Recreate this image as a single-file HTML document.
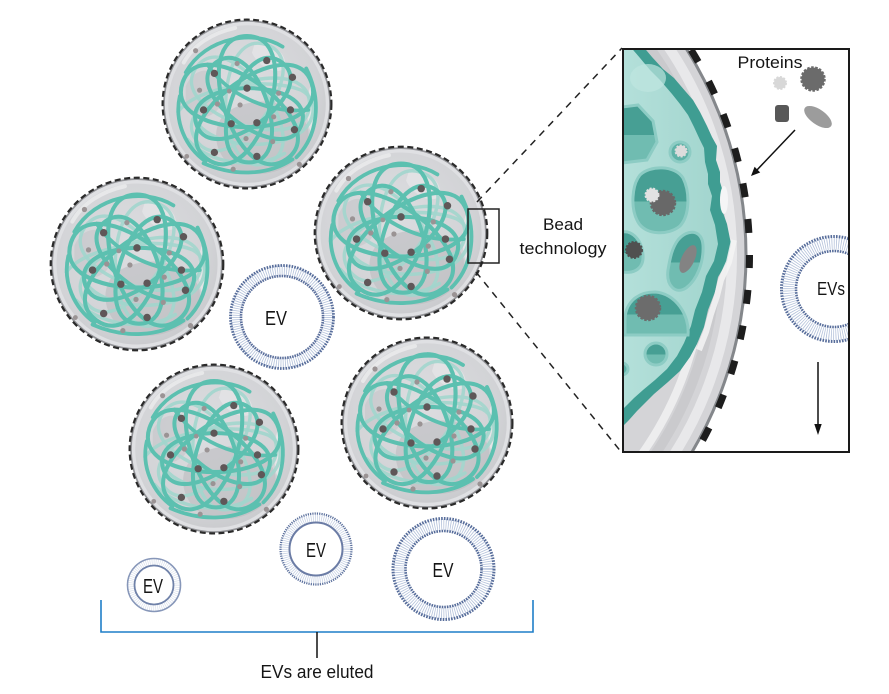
<!DOCTYPE html>
<html>
<head>
<meta charset="utf-8">
<style>
html,body{margin:0;padding:0;background:#fff;}
body{width:889px;height:694px;overflow:hidden;}
svg{display:block;}
text{font-family:"Liberation Sans Narrow","Liberation Sans",sans-serif;fill:#151515;}
</style>
</head>
<body>
<svg width="889" height="694" viewBox="0 0 889 694" xmlns="http://www.w3.org/2000/svg">
<defs>
  <radialGradient id="bg" cx="0.45" cy="0.4" r="0.65">
    <stop offset="0" stop-color="#dcdde0"/>
    <stop offset="0.75" stop-color="#d2d3d6"/>
    <stop offset="1" stop-color="#c8c9cc"/>
  </radialGradient>
  <linearGradient id="tealL" x1="0" y1="0" x2="1" y2="0">
    <stop offset="0" stop-color="#b4e0da"/>
    <stop offset="1" stop-color="#a2d5ce"/>
  </linearGradient>
  <linearGradient id="pt" x1="0" y1="0" x2="0" y2="1">
    <stop offset="0" stop-color="#479f94"/>
    <stop offset="0.52" stop-color="#479f94"/>
    <stop offset="0.52" stop-color="#70bcb1"/>
    <stop offset="1" stop-color="#70bcb1"/>
  </linearGradient>
  <clipPath id="ic"><rect x="623" y="49" width="226" height="403"/></clipPath>

  <path id="starA" fill="none" d="M0,-55 C-50,-55 -8.2,73.9 32.3,44.5 C72.8,15.1 -36.8,-64.6 -52.3,-17 C-67.8,30.6 67.8,30.6 52.3,-17 C36.8,-64.6 -72.8,15.1 -32.3,44.5 C8.2,73.9 50,-55 0,-55Z"/>

  <g id="bead">
    <circle r="85" fill="#d1d2d5"/>
    <circle r="80" fill="url(#bg)"/>
    <path d="M-20,8 C10,-12 55,-2 62,26 C66,55 30,76 0,70 C-30,64 -42,26 -20,8Z" fill="#b9babd" opacity="0.55"/>
    <path d="M-62,-18 C-52,-42 -24,-38 -24,-10 C-24,14 -55,22 -62,4Z" fill="#c1c2c5" opacity="0.5"/>
    <path d="M8,-62 C28,-62 42,-50 38,-36 C28,-28 10,-40 5,-52Z" fill="#e9eaeb" opacity="0.6"/>
    <ellipse cx="66" cy="5" rx="5" ry="24" fill="#ededee" opacity="0.7"/>
    <path d="M-64,-42 C-54,-60 -35,-72 -12,-77" stroke="#f0f0f1" stroke-width="4" fill="none" stroke-linecap="round" opacity="0.7"/>
    <circle r="81.5" fill="none" stroke="#e6e6e8" stroke-width="3.5" opacity="0.7"/>
    <!-- faded loops -->
    <use href="#starA" transform="rotate(18) scale(1.15)" stroke="#a2d6cd" stroke-width="3" opacity="0.9"/>
    <g fill="none" stroke="#a2d6cd" stroke-width="3.5" stroke-linecap="round" opacity="0.9">
      <path d="M-70,8 C-50,-18 20,-28 55,-14 C74,-4 70,24 45,34 C10,48 -40,40 -52,16"/>
      <path d="M-60,36 C-40,60 8,68 38,50"/>
    </g>
    <!-- main tangle -->
    <use href="#starA" transform="scale(1.25)" stroke="#5cc0b0" stroke-width="3.3" stroke-linejoin="round"/>
    <use href="#starA" transform="translate(2,3) rotate(36) scale(1.02)" stroke="#5cc0b0" stroke-width="4" stroke-linejoin="round"/>
    <g fill="none" stroke="#5cc0b0" stroke-width="3.8" stroke-linecap="round">
      <path d="M-62,-32 C-42,-68 8,-76 36,-58"/>
      <path d="M60,-36 C76,-4 72,32 50,54"/>
      <path d="M-44,60 C-12,74 22,72 46,56"/>
      <path d="M-68,-8 C-74,18 -62,44 -42,58"/>
      <path d="M-40,-40 C-20,-10 20,10 62,6"/>
    </g>
    <!-- dots -->
    <g fill="#9a9394">
      <circle cx="-52" cy="-54" r="2.6"/><circle cx="-10" cy="-41" r="2.6"/><circle cx="-48" cy="-14" r="2.6"/>
      <circle cx="32" cy="-11" r="2.6"/><circle cx="-30" cy="0" r="2.6"/><circle cx="-7" cy="1" r="2.6"/>
      <circle cx="27" cy="13" r="2.6"/><circle cx="-1" cy="35" r="2.6"/><circle cx="26" cy="38" r="2.6"/>
      <circle cx="-14" cy="66" r="2.6"/><circle cx="53" cy="61" r="2.6"/><circle cx="-61" cy="53" r="2.4"/>
      <circle cx="-18" cy="-13" r="2.4"/>
    </g>
    <g fill="#5f5758">
      <circle cx="20" cy="-44" r="3.7"/><circle cx="-33" cy="-31" r="3.7"/><circle cx="46" cy="-27" r="3.7"/>
      <circle cx="0" cy="-16" r="3.7"/><circle cx="-44" cy="6" r="3.7"/><circle cx="44" cy="6" r="3.7"/>
      <circle cx="-16" cy="20" r="3.7"/><circle cx="10" cy="19" r="3.7"/><circle cx="48" cy="26" r="3.7"/>
      <circle cx="-33" cy="49" r="3.7"/><circle cx="10" cy="53" r="3.7"/>
    </g>
    <circle r="84" fill="none" stroke="#939498" stroke-width="1.6"/>
    <circle r="85.4" fill="none" stroke="#2a2a2a" stroke-width="2.2" stroke-dasharray="6 3.5"/>
  </g>
</defs>

<rect width="889" height="694" fill="#fff"/>

<!-- beads -->
<use href="#bead" transform="translate(247,104) scale(0.988)"/>
<use href="#bead" transform="translate(137,264) scale(1.01)"/>
<use href="#bead" transform="translate(401,233) scale(1.01)"/>
<use href="#bead" transform="translate(214,449) scale(0.988)"/>
<use href="#bead" transform="translate(427,423)"/>

<!-- EV 1 -->
<g fill="none">
  <circle cx="282" cy="317" r="46.5" stroke="#b3c1da" stroke-width="10" stroke-dasharray="0.8 1.5"/>
  <circle cx="282" cy="317" r="51.5" stroke="#566c9a" stroke-width="2.8" stroke-dasharray="1.6 1.2"/>
  <circle cx="282" cy="317" r="41" stroke="#5b6f9c" stroke-width="2.6" stroke-dasharray="1.6 0.9"/>
</g>
<text x="276" y="325" font-size="20" text-anchor="middle" textLength="22" lengthAdjust="spacingAndGlyphs">EV</text>

<!-- EV 2 small -->
<g fill="none">
  <circle cx="154" cy="585" r="23" stroke="#d6ddea" stroke-width="6" stroke-dasharray="0.6 1.4"/>
  <circle cx="154" cy="585" r="26.5" stroke="#8797b9" stroke-width="1.6"/>
  <circle cx="154" cy="585" r="19.5" stroke="#7082a9" stroke-width="1.8"/>
</g>
<text x="153" y="593" font-size="20" text-anchor="middle" textLength="20" lengthAdjust="spacingAndGlyphs">EV</text>

<!-- EV 3 -->
<g fill="none">
  <circle cx="316" cy="549" r="31" stroke="#c3cee2" stroke-width="7" stroke-dasharray="0.7 1.4"/>
  <circle cx="316" cy="549" r="35.5" stroke="#5a6f9c" stroke-width="2.2" stroke-dasharray="1.2 1.1"/>
  <circle cx="316" cy="549" r="26.5" stroke="#6b7ca5" stroke-width="2"/>
</g>
<text x="316" y="557" font-size="20" text-anchor="middle" textLength="20" lengthAdjust="spacingAndGlyphs">EV</text>

<!-- EV 4 -->
<g fill="none">
  <circle cx="443.5" cy="569" r="44.5" stroke="#b3c1da" stroke-width="11" stroke-dasharray="0.8 1.5"/>
  <circle cx="443.5" cy="569" r="50.5" stroke="#566c9a" stroke-width="3" stroke-dasharray="1.6 1.2"/>
  <circle cx="443.5" cy="569" r="38" stroke="#566c9a" stroke-width="2.6" stroke-dasharray="1.6 1"/>
</g>
<text x="443" y="577" font-size="20" text-anchor="middle" textLength="21" lengthAdjust="spacingAndGlyphs">EV</text>

<!-- bracket -->
<path d="M101,600 V632 H533 V600" fill="none" stroke="#1f7fc8" stroke-width="1.6"/>
<line x1="317" y1="632" x2="317" y2="658" stroke="#111" stroke-width="1.5"/>
<text x="317" y="678" font-size="18" text-anchor="middle" textLength="113" lengthAdjust="spacingAndGlyphs">EVs are eluted</text>

<!-- small rect & dashed connectors -->
<rect x="468" y="209" width="31" height="54" fill="none" stroke="#222" stroke-width="1.5"/>
<line x1="477" y1="202" x2="622" y2="48" stroke="#222" stroke-width="1.5" stroke-dasharray="7 6"/>
<line x1="476" y1="272" x2="622" y2="453" stroke="#222" stroke-width="1.5" stroke-dasharray="7 6"/>

<text x="563" y="230" font-size="17" text-anchor="middle" textLength="40" lengthAdjust="spacingAndGlyphs">Bead</text>
<text x="563" y="254" font-size="17" text-anchor="middle" textLength="87" lengthAdjust="spacingAndGlyphs">technology</text>

<!-- inset -->
<g clip-path="url(#ic)">
  <rect x="623" y="49" width="226" height="403" fill="#fff"/>
  <circle cx="360" cy="255" r="386" fill="#d4d4d7"/>
  <circle cx="360" cy="255" r="372" fill="none" stroke="#e8e8ea" stroke-width="10"/>
  <circle cx="360" cy="255" r="356" fill="none" stroke="#cacacd" stroke-width="10"/>
  <circle cx="360" cy="255" r="345" fill="none" stroke="#ededee" stroke-width="8"/>
  <!-- teal dark band -->
  <path d="M622,44 L641,44 L652,57 L663,69 L674,78 L686,92 L693,100 L700,112 L707,126 L712,137 L717,146 L716,160 L720,172 L720,182 L724,195 L722,210 L727,224 L731,244 L727,262 L718,277 L715,292 L708,310 L704,327 L697,344 L690,357 L680,371 L668,382 L654,394 L645,403 L637,411 L629,420 L622,427 Z" fill="#3f9d92"/>
  <!-- teal light interior -->
  <path d="M622,44 L628,44 L640,58 L650,70 L660,80 L672,94 L680,104 L688,115 L694,127 L700,140 L704,148 L705,162 L708,174 L708,184 L712,196 L710,210 L715,225 L718,244 L714,261 L706,276 L702,292 L695,310 L691,326 L684,343 L677,356 L667,369 L655,380 L643,390 L634,398 L627,405 L622,410 Z" fill="url(#tealL)"/>
  <ellipse cx="648" cy="78" rx="18" ry="14" fill="#bfe5e0" opacity="0.7"/>
  <!-- pores -->
  <g stroke="#8dccc4" stroke-width="3">
    <path d="M622,107 L638,105 L653,121 L657,142 L647,160 L622,163 Z" fill="url(#pt)"/>
    <circle cx="680" cy="152" r="10" fill="#5fb2a7"/>
    <path d="M640,175 C650,165 675,165 683,178 C690,192 690,215 680,226 C668,236 645,235 638,222 C630,208 632,185 640,175 Z" fill="url(#pt)"/>
    <path d="M622,232 C632,230 642,240 643,255 C644,268 635,274 622,272 Z" fill="url(#pt)"/>
    <path d="M678,240 C688,228 702,230 703,245 C704,262 697,280 686,288 C675,295 666,285 668,270 C670,258 672,248 678,240 Z" fill="url(#pt)"/>
    <path d="M625,335 L688,335 C690,315 675,293 655,292 C635,292 625,305 625,320 Z" fill="url(#pt)"/>
    <circle cx="656" cy="354" r="11" fill="url(#pt)"/>
    <circle cx="622" cy="369" r="6" fill="#5fb2a7"/>
  </g>
  <!-- proteins in pores -->
  <g>
    <circle cx="681" cy="151" r="5.5" fill="#dcdcdc" stroke="#dcdcdc" stroke-width="2" stroke-dasharray="2 1.5"/>
    <circle cx="663" cy="203" r="12" fill="#686868" stroke="#686868" stroke-width="2.5" stroke-dasharray="2.5 1.5"/>
    <circle cx="652" cy="195" r="6.5" fill="#e2e2e2" stroke="#e2e2e2" stroke-width="2" stroke-dasharray="2 1.5"/>
    <circle cx="634" cy="250" r="8" fill="#505050" stroke="#505050" stroke-width="2" stroke-dasharray="2 1.5"/>
    <ellipse cx="688" cy="259" rx="6.5" ry="15" transform="rotate(25 688 259)" fill="#838383"/>
    <circle cx="648" cy="308" r="12" fill="#6c6c6c" stroke="#6c6c6c" stroke-width="2.5" stroke-dasharray="2.5 1.5"/>
  </g>
  <!-- highlights -->
  <path d="M734,240 L729,262 L721,280 L717,296 L711,314 L706,332 L699,350" fill="none" stroke="#f4f4f5" stroke-width="6" opacity="0.85"/>
  <ellipse cx="724" cy="200" rx="4" ry="14" fill="#f5f5f6"/>
  <!-- rim + dashes -->
  <circle cx="360" cy="255" r="386" fill="none" stroke="#84878b" stroke-width="3"/>
  <circle cx="360" cy="255" r="389.5" fill="none" stroke="#1d1d1d" stroke-width="7" stroke-dasharray="14 22" stroke-dashoffset="1"/>
  <!-- EV in inset -->
  <g fill="none">
    <circle cx="834" cy="289" r="45.5" stroke="#b3c1da" stroke-width="12" stroke-dasharray="0.8 1.5"/>
    <circle cx="834" cy="289" r="52.5" stroke="#566c9a" stroke-width="3" stroke-dasharray="1.6 1.2"/>
    <circle cx="834" cy="289" r="38" stroke="#566c9a" stroke-width="2.6" stroke-dasharray="1.6 1"/>
  </g>
</g>
<rect x="623" y="49" width="226" height="403" fill="none" stroke="#1a1a1a" stroke-width="2"/>

<text x="831" y="295" font-size="18" text-anchor="middle" textLength="28" lengthAdjust="spacingAndGlyphs">EVs</text>
<text x="770" y="68" font-size="17" text-anchor="middle" textLength="65" lengthAdjust="spacingAndGlyphs">Proteins</text>

<!-- free proteins -->
<circle cx="780" cy="83" r="6" fill="#d8d8d8" stroke="#d8d8d8" stroke-width="2" stroke-dasharray="2 1.5"/>
<circle cx="813" cy="79" r="11.5" fill="#6b6b6b" stroke="#6b6b6b" stroke-width="2.5" stroke-dasharray="2.5 1.5"/>
<rect x="775" y="105" width="14" height="17" rx="3" fill="#585858"/>
<ellipse cx="818" cy="117" rx="16" ry="7.5" transform="rotate(35 818 117)" fill="#9c9c9c"/>

<!-- arrows -->
<line x1="795" y1="130" x2="756" y2="171" stroke="#111" stroke-width="1.5"/>
<polygon points="751,176 760.2,172.5 754.6,166.8" fill="#111"/>
<line x1="818" y1="362" x2="818" y2="426" stroke="#111" stroke-width="1.5"/>
<polygon points="818,435 814.3,424 821.7,424" fill="#111"/>
</svg>
</body>
</html>
